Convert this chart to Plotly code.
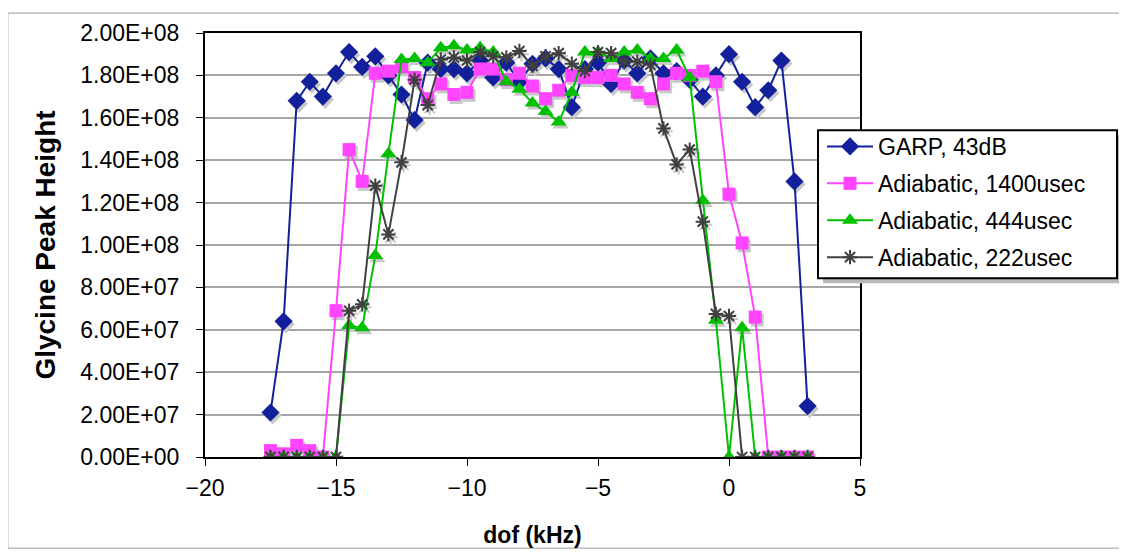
import plotly.graph_objects as go

# dof offsets in kHz
dof = [-17.5, -17, -16.5, -16, -15.5, -15, -14.5, -14, -13.5, -13, -12.5, -12,
       -11.5, -11, -10.5, -10, -9.5, -9, -8.5, -8, -7.5, -7, -6.5, -6, -5.5,
       -5, -4.5, -4, -3.5, -3, -2.5, -2, -1.5, -1, -0.5, 0, 0.5, 1, 1.5, 2,
       2.5, 3]

garp = [2.1e7, 6.4e7, 1.68e8, 1.77e8, 1.70e8, 1.81e8, 1.91e8, 1.84e8, 1.89e8,
        1.80e8, 1.71e8, 1.59e8, 1.86e8, 1.83e8, 1.83e8, 1.81e8, 1.87e8, 1.79e8,
        1.86e8, 1.77e8, 1.855e8, 1.88e8, 1.83e8, 1.65e8, 1.83e8, 1.86e8,
        1.76e8, 1.87e8, 1.81e8, 1.88e8, 1.81e8, 1.82e8, 1.78e8, 1.70e8, 1.80e8,
        1.90e8, 1.77e8, 1.65e8, 1.73e8, 1.87e8, 1.30e8, 2.4e7]

adiab_1400 = [3e6, 1.5e6, 5.5e6, 3e6, 0, 6.9e7, 1.45e8, 1.30e8, 1.81e8, 1.82e8,
              1.84e8, 1.79e8, 1.69e8, 1.76e8, 1.71e8, 1.72e8, 1.83e8, 1.83e8,
              1.78e8, 1.81e8, 1.75e8, 1.69e8, 1.73e8, 1.80e8, 1.79e8, 1.79e8,
              1.80e8, 1.76e8, 1.72e8, 1.69e8, 1.76e8, 1.81e8, 1.80e8, 1.82e8,
              1.77e8, 1.24e8, 1.01e8, 6.6e7, 0, 0, 0, 0]

adiab_444 = [0, 0, 0, 0, 0, 0, 6.2e7, 6.1e7, 9.5e7, 1.43e8, 1.875e8, 1.88e8,
             1.86e8, 1.93e8, 1.94e8, 1.92e8, 1.93e8, 1.91e8, 1.77e8, 1.735e8,
             1.67e8, 1.63e8, 1.58e8, 1.72e8, 1.91e8, 1.91e8, 1.88e8, 1.91e8,
             1.92e8, 1.88e8, 1.88e8, 1.92e8, 1.79e8, 1.21e8, 6.45e7, 0, 6.1e7,
             0, 0, 0, 0, 0]

adiab_222 = [0, 0, 0, 0, 0, 0, 6.9e7, 7.2e7, 1.28e8, 1.05e8, 1.39e8, 1.78e8,
             1.66e8, 1.875e8, 1.885e8, 1.87e8, 1.91e8, 1.89e8, 1.885e8, 1.915e8,
             1.845e8, 1.89e8, 1.905e8, 1.855e8, 1.82e8, 1.91e8, 1.905e8,
             1.865e8, 1.865e8, 1.85e8, 1.55e8, 1.38e8, 1.45e8, 1.11e8, 6.75e7,
             6.65e7, 0, 0, 0, 0, 0, 0]

series = [
    ("GARP, 43dB", garp, "#12209c", "diamond", 14),
    ("Adiabatic, 1400usec", adiab_1400, "#ff44ff", "square", 13),
    ("Adiabatic, 444usec", adiab_444, "#00c000", "triangle-up", 14),
    ("Adiabatic, 222usec", adiab_222, "#404040", "asterisk-open", 12),
]

y_ticks = [i * 2e7 for i in range(11)]
y_labels = [f"{v:.2E}" for v in y_ticks]
x_ticks = [-20, -15, -10, -5, 0, 5]

# excel-ish drop shadow: small offset in axis units (~2px right, 3px down)
sx, sy = 0.08, 1.4e6

fig = go.Figure()
for name, vals, col, sym, sz in series:
    fig.add_trace(go.Scatter(
        x=[v + sx for v in dof], y=[v - sy for v in vals], mode="markers",
        marker=dict(symbol=sym, size=sz, color="#c8c8c8",
                    line=dict(color="#c8c8c8", width=2 if sym == "asterisk-open" else 0)),
        showlegend=False, hoverinfo="skip",
    ))
for i, (name, vals, col, sym, sz) in enumerate(series):
    fig.add_trace(go.Scatter(
        x=dof, y=vals, name=name, mode="lines+markers", legendgroup=str(i),
        line=dict(color=col, width=2),
        marker=dict(symbol=sym, size=sz, color=col,
                    line=dict(color=col, width=2 if sym == "asterisk-open" else 0)),
    ))

fig.update_layout(
    width=1119, height=548,
    margin=dict(l=197, r=267, t=22, b=93),
    paper_bgcolor="white", plot_bgcolor="white",
    font=dict(family="Arial, Liberation Sans, sans-serif", size=23, color="black"),
    legend=dict(x=0.942, y=0.783, xanchor="left", yanchor="top",
                borderwidth=0, bgcolor="rgba(0,0,0,0)",
                font=dict(size=23), tracegroupgap=4, itemwidth=46),
    shapes=[
        # outer chart frame
        dict(type="rect", xref="paper", yref="paper",
             x0=-0.301, x1=1.405, y0=-0.215, y1=1.047,
             line=dict(color="#999999", width=1), layer="below"),
        # legend shadow + box
        dict(type="rect", xref="paper", yref="paper",
             x0=0.9435, x1=1.400, y0=0.4098, y1=0.7588,
             fillcolor="#b8b8b8", line=dict(width=0), layer="above"),
        dict(type="rect", xref="paper", yref="paper",
             x0=0.9359, x1=1.3924, y0=0.4215, y1=0.7705,
             fillcolor="white", line=dict(color="black", width=2), layer="above"),
    ],
)
fig.update_xaxes(
    range=[-20, 5], tickvals=x_ticks, showgrid=False, zeroline=False,
    showline=True, linecolor="black", linewidth=2, mirror=True,
    ticks="outside", ticklen=7, tickcolor="black", tickwidth=1,
    ticklabelstandoff=2,
    title=dict(text="<b>dof (kHz)</b>", font=dict(size=23), standoff=27),
)
fig.update_yaxes(
    range=[0, 2e8], tickvals=y_ticks, ticktext=y_labels,
    showgrid=True, gridcolor="#a6a6a6", gridwidth=1.5, zeroline=False,
    showline=True, linecolor="black", linewidth=2, mirror=True,
    ticks="outside", ticklen=7, tickcolor="black", tickwidth=1,
    ticklabelstandoff=12,
    title=dict(text="<b>Glycine Peak Height</b>", font=dict(size=28), standoff=16),
)

fig.write_html("out.html")
